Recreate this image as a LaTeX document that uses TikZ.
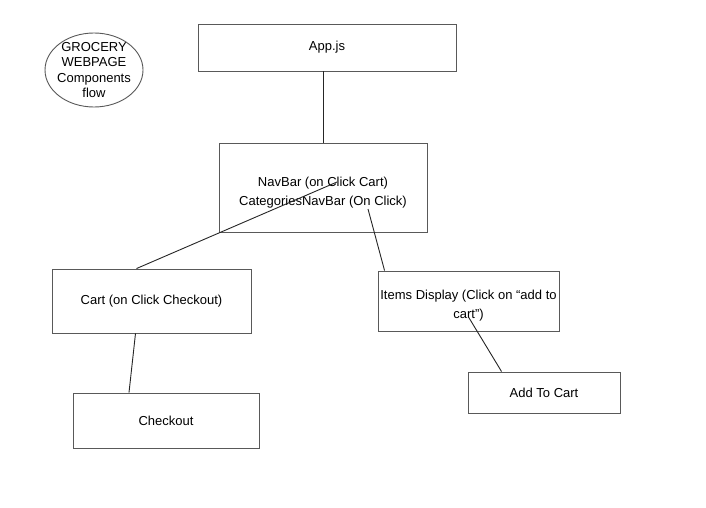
\documentclass[tikz,border=0pt]{standalone}
\usepackage{fontspec}
\setmainfont{Liberation Sans}
\usetikzlibrary{positioning}
\tikzset{
    compbox/.style={draw=black!65, line width=0.9pt, inner sep=0pt, align=center, font=\fontsize{13}{19}\selectfont},
    flowline/.style={draw=black!85, line width=0.9pt}
}
\begin{document}
\begin{tikzpicture}[x=1pt, y=-1pt]
    \useasboundingbox[fill=white] (0,0) rectangle (706,508);

    % title bubble
    \node[align=center, inner sep=0pt, font=\fontsize{13}{15.5}\selectfont] (title) at (94,70) {GROCERY\\WEBPAGE\\Components\\flow};
    \draw[draw=black!65, line width=0.9pt] (title.center) ellipse [x radius=49, y radius=37];

    \node[compbox, minimum width=258pt, minimum height=47pt] (app) at (327,47.5) {App.js};
    \node[compbox, minimum width=208pt, minimum height=89pt] (nav) at (323,187.5) {\rule{0pt}{20pt}NavBar (on Click Cart)\\CategoriesNavBar (On Click)};
    \node[compbox, minimum width=199pt, minimum height=64pt] (cart) at (151.5,301) {Cart (on Click Checkout)};
    \node[compbox, minimum width=186pt, minimum height=55pt] (checkout) at (166,420.5) {Checkout};
    \node[compbox, minimum width=181pt, minimum height=60pt] (items) at (468.5,301) {\rule{0pt}{19pt}Items Display (Click on “add to\\cart”)};
    \node[compbox, minimum width=152pt, minimum height=41pt] (addcart) at (544,392.5) {Add To Cart};

    \draw[flowline] (nav.north |- app.south) -- (nav.north);
    \draw[flowline] ([xshift=14pt,yshift=5.5pt]nav.center) -- ([xshift=-15pt]cart.north);
    \draw[flowline] ([xshift=45pt,yshift=-21.5pt]nav.center) -- ([xshift=7pt]items.north west);
    \draw[flowline] ([xshift=-16pt]cart.south) -- ([xshift=-37pt]checkout.north);
    \draw[flowline] ([yshift=-16pt]items.center) -- ([xshift=34pt]addcart.north west);
\end{tikzpicture}
\end{document}
